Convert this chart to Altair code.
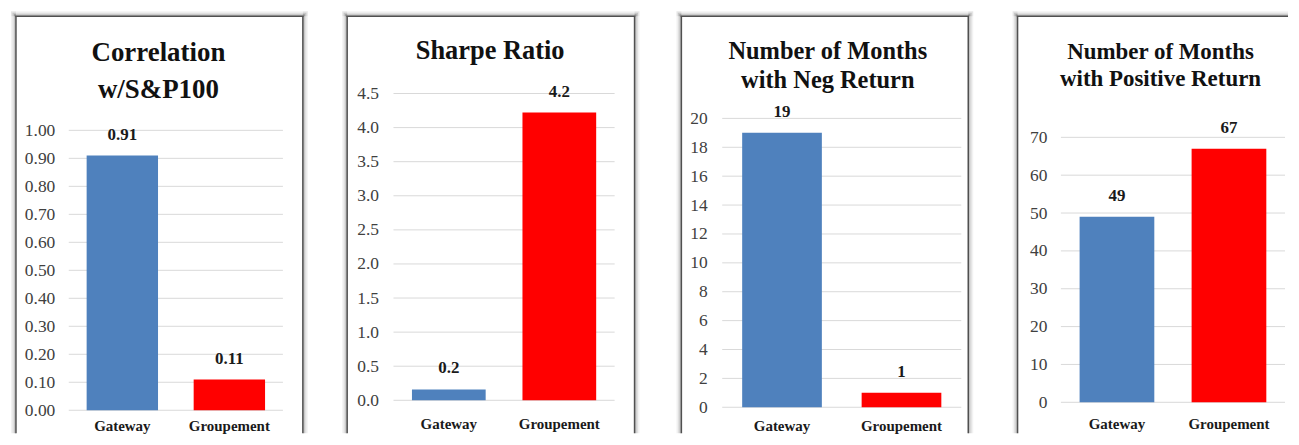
import altair as alt
import pandas as pd

# ---------------- data ----------------
CATEGORIES = ["Gateway", "Groupement"]
BAR_COLORS = ["#4F81BD", "#FF0000"]

CORR_VALUES = [0.91, 0.11]
SHARPE_VALUES = [0.16, 4.22]
NEG_MONTHS = [19, 1]
POS_MONTHS = [49, 67]

TITLES = [
    ["Correlation", "w/S&P100"],
    ["Sharpe Ratio"],
    ["Number of Months", "with Neg Return"],
    ["Number of Months", "with Positive Return"],
]

CORR_TICKS = [0.0, 0.1, 0.2, 0.3, 0.4, 0.5, 0.6, 0.7, 0.8, 0.9, 1.0]
SHARPE_TICKS = [0.0, 0.5, 1.0, 1.5, 2.0, 2.5, 3.0, 3.5, 4.0, 4.5]
NEG_TICKS = [0, 2, 4, 6, 8, 10, 12, 14, 16, 18, 20]
POS_TICKS = [0, 10, 20, 30, 40, 50, 60, 70]

FONT = "Liberation Serif"

# ---------------- layout (page pixel geometry, styling only) ----------------
PAGE_TOP = 8          # top of the chart on the page
CHART_H = 424         # common panel height (whole panel, page 8..432)
BOX_TOP = 13.5

PANELS = [
    dict(values=CORR_VALUES, ticks=CORR_TICKS, title=TITLES[0], tick_fmt=".2f", lab_fmt=".2f",
         L=67, R=282, T=128, B=409, boxL=14, boxR=302, cellL=8, cellR=324,
         cx=157, base=[58, 95.5], tsize=27, xlab=424.5, ypad=14, right_edge=True),
    dict(values=SHARPE_VALUES, ticks=SHARPE_TICKS, title=TITLES[1], tick_fmt=".1f", lab_fmt=".1f",
         L=393, R=615, T=91, B=399, boxL=346.5, boxR=635, cellL=324, cellR=658,
         cx=490, base=[56], tsize=26.5, xlab=423, ypad=15, right_edge=True),
    dict(values=NEG_MONTHS, ticks=NEG_TICKS, title=TITLES[2], tick_fmt="d", lab_fmt="d",
         L=723, R=963, T=116, B=406, boxL=682, boxR=970, cellL=658, cellR=995,
         cx=829, base=[56.5, 85], tsize=24.5, xlab=424.5, ypad=15, right_edge=True),
    dict(values=POS_MONTHS, ticks=POS_TICKS, title=TITLES[3], tick_fmt="d", lab_fmt="d",
         L=1063, R=1288, T=135, B=401, boxL=1019.5, boxR=1291, cellL=995, cellR=1291,
         cx=1163, base=[56.5, 83.5], tsize=23, xlab=423, ypad=14, right_edge=False),
]

ONE = pd.DataFrame({"k": [0]})
SHADOW_LEVELS = [(5, 0.05), (3.5, 0.07), (2, 0.12)]


def vline(x, y1, y2, color, width, opacity=1.0):
    return alt.Chart(ONE).mark_rule(color=color, strokeWidth=width, opacity=opacity).encode(
        x=alt.value(x), y=alt.value(y1), y2=alt.value(y2))


def hline(x1, x2, y, color, width, opacity=1.0):
    return alt.Chart(ONE).mark_rule(color=color, strokeWidth=width, opacity=opacity).encode(
        x=alt.value(x1), x2=alt.value(x2), y=alt.value(y))


def panel(p):
    ox, oy = p["cellL"], PAGE_TOP          # origin of this panel on the page
    W = p["cellR"] - p["cellL"]
    H = CHART_H
    df = pd.DataFrame({"cat": CATEGORIES, "val": p["values"]})
    ticks = pd.DataFrame({"tick": p["ticks"]})

    yscale = alt.Scale(domain=[0, p["ticks"][-1]], nice=False, zero=True,
                       range=[p["B"] - oy, p["T"] - oy])
    xscale = alt.Scale(range=[p["L"] - ox, p["R"] - ox], paddingInner=0.333, paddingOuter=0.167)

    yaxis = alt.Axis(title=None, values=p["ticks"], format=p["tick_fmt"], domain=False,
                     ticks=False, tickSize=0, grid=False, offset=-(p["L"] - ox),
                     labelPadding=p["ypad"], labelFont=FONT, labelFontSize=17.5,
                     labelColor="#404040")
    lab_top = p["xlab"] - 7.5
    xaxis = alt.Axis(title=None, labelAngle=0, ticks=False, tickSize=0, domain=False, grid=False,
                     offset=-(H - (lab_top - oy)), labelPadding=0, labelBaseline="top",
                     labelFont=FONT, labelFontSize=15, labelFontWeight="bold",
                     labelColor="#1a1a1a")

    layers = []
    bx1, bx2, bt = p["boxL"] - ox, p["boxR"] - ox, BOX_TOP - oy
    # soft shadow (outside the frame)
    for w, op in SHADOW_LEVELS:
        layers.append(vline(bx1 - w / 2, bt - w, H, "#000000", w, op))
        if p["right_edge"]:
            layers.append(vline(bx2 + w / 2, bt - w, H, "#000000", w, op))
            layers.append(hline(bx1 - w, bx2 + w, bt - w / 2, "#000000", w, op))
        else:
            layers.append(hline(bx1 - w, W, bt - w / 2, "#000000", w, op))
    # frame
    layers.append(vline(bx1, bt, H, "#505050", 1.5))
    if p["right_edge"]:
        layers.append(vline(bx2, bt, H, "#505050", 1.5))
        layers.append(hline(bx1 - 0.75, bx2 + 0.75, bt, "#505050", 1.5))
    else:
        layers.append(hline(bx1 - 0.75, W, bt, "#505050", 1.5))

    y_enc_val = alt.Y("val:Q", scale=yscale, axis=yaxis)
    x_enc = alt.X("cat:N", sort=CATEGORIES, scale=xscale, axis=xaxis)

    # gridlines
    layers.append(
        alt.Chart(ticks).mark_rule(color="#D9D9D9", strokeWidth=1).encode(
            y=alt.Y("tick:Q", scale=yscale, axis=yaxis),
            x=alt.value(p["L"] - ox), x2=alt.value(p["R"] - ox))
    )
    # bars
    layers.append(
        alt.Chart(df).mark_bar().encode(
            x=x_enc, y=y_enc_val,
            color=alt.Color("cat:N", scale=alt.Scale(domain=CATEGORIES, range=BAR_COLORS),
                            legend=None),
        )
    )
    # value labels
    layers.append(
        alt.Chart(df).mark_text(dy=-21, baseline="middle", align="center", font=FONT,
                                fontSize=17, fontWeight="bold", color="#1a1a1a").encode(
            x=x_enc, y=y_enc_val,
            text=alt.Text("val:Q", format=p["lab_fmt"]))
    )
    # title lines
    for line, b in zip(p["title"], p["base"]):
        layers.append(
            alt.Chart(ONE).mark_text(font=FONT, fontSize=p["tsize"], fontWeight="bold",
                                     color="#111111", align="center",
                                     baseline="alphabetic").encode(
                x=alt.value(p["cx"] - ox), y=alt.value(b - oy), text=alt.value(line))
        )
    return alt.layer(*layers).properties(width=W, height=H)


chart = alt.hconcat(*[panel(p) for p in PANELS], spacing=0).properties(
    padding=0, background="white"
).configure_view(stroke=None)

chart.save("out.html", embed_options={"renderer": "svg", "actions": False})
